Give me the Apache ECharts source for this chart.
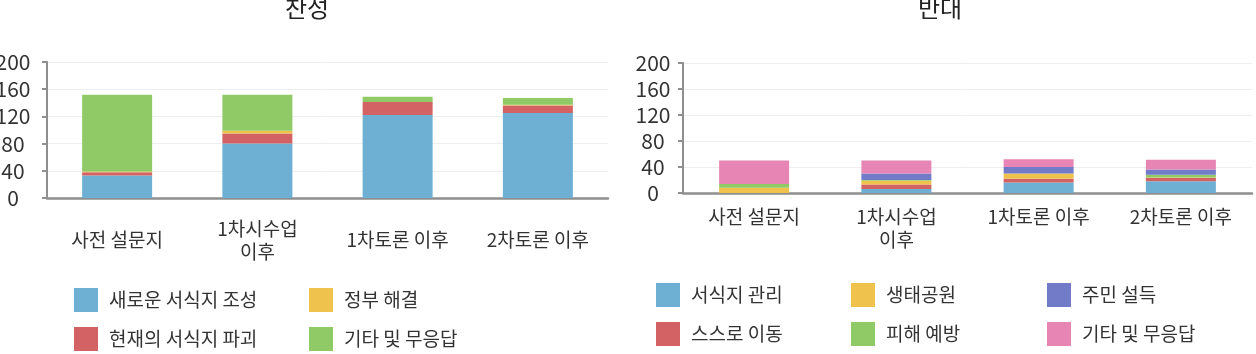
<!DOCTYPE html>
<html><head><meta charset="utf-8">
<script src="https://cdn.jsdelivr.net/npm/echarts@6/dist/echarts.min.js"></script>
<style>html,body{margin:0;padding:0;background:#fff}#c{width:1256px;height:354px}</style>
</head><body><div id="c"></div>
<script>
const categories = ['사전 설문지', '1차시수업\n이후', '1차토론 이후', '2차토론 이후'];
const yTicks = [0, 40, 80, 120, 160, 200];
const leftTitle = '찬성';
const rightTitle = '반대';

const leftNames = ['새로운 서식지 조성', '현재의 서식지 파괴', '정부 해결', '기타 및 무응답'];
const leftNew = [33, 80, 122, 125];
const leftDestroy = [5, 15, 19, 11];
const leftGov = [1, 4, 0, 1];
const leftEtc = [113, 53, 8, 10];

const rightNames = ['서식지 관리', '스스로 이동', '생태공원', '피해 예방', '주민 설득', '기타 및 무응답'];
const rightManage = [0, 6, 16, 18];
const rightMove = [0, 7, 6, 5];
const rightPark = [8, 6, 8, 1];
const rightPrevent = [6, 1, 0, 4];
const rightPersuade = [0, 10, 10, 8];
const rightEtc = [36, 20, 12, 15];

const C = {blue:'#6EB0D4', red:'#D26264', yellow:'#EEC24C', green:'#90CA67', purple:'#717BC8', pink:'#E785B4'};
const leftColors = [C.blue, C.red, C.yellow, C.green];
const rightColors = [C.blue, C.red, C.yellow, C.green, C.purple, C.pink];
const FONT = 'Noto Sans CJK KR';

const leftData = [leftNew, leftDestroy, leftGov, leftEtc];
const rightData = [rightManage, rightMove, rightPark, rightPrevent, rightPersuade, rightEtc];

function yAxis(gi, margin) {
  return {
    type: 'value', gridIndex: gi, min: yTicks[0], max: yTicks[yTicks.length-1], interval: 40,
    axisLine: {show: true, lineStyle: {color: '#8f8f8f', width: 2}},
    axisTick: {show: true, length: 5, lineStyle: {color: '#8f8f8f', width: 2}},
    splitLine: {lineStyle: {color: '#eeeeee', width: 1}},
    axisLabel: {color: '#333', fontSize: 21, fontFamily: FONT, align: 'center', margin: margin}
  };
}
function xAxis(gi, opts) {
  return {
    type: 'category', gridIndex: gi, data: categories,
    axisLine: {show: true, lineStyle: {color: '#8f8f8f', width: 2.5}},
    axisTick: {show: false},
    axisLabel: Object.assign({interval: 0, color: '#333', fontSize: 19, fontFamily: FONT, lineHeight: 23}, opts)
  };
}

const series = [];
leftNames.forEach((n, i) => series.push({
  name: n, type: 'bar', stack: 'L', xAxisIndex: 0, yAxisIndex: 0, barWidth: 70,
  itemStyle: {color: leftColors[i]}, data: leftData[i]
}));
rightNames.forEach((n, i) => series.push({
  name: n, type: 'bar', stack: 'R', xAxisIndex: 1, yAxisIndex: 1, barWidth: 70,
  itemStyle: {color: rightColors[i]}, data: rightData[i]
}));

function legendItem(name, color, left, top) {
  return {
    left: left, top: top, itemWidth: 24, itemHeight: 24, padding: 0,
    icon: 'rect', selectedMode: false,
    textStyle: {color: '#333', fontSize: 19, fontFamily: FONT, padding: [0, 0, 0, 6]},
    data: [{name: name, itemStyle: {color: color}}]
  };
}
const legends = [];
const lCols = [74, 309], lRows = [288, 327];
leftNames.forEach((n, i) => legends.push(legendItem(n, leftColors[i], lCols[Math.floor(i/2)], lRows[i%2])));
const rCols = [656, 851, 1047], rRows = [283, 322];
rightNames.forEach((n, i) => legends.push(legendItem(n, rightColors[i], rCols[Math.floor(i/2)], rRows[i%2])));

const option = {
  animation: false,
  title: [
    {text: leftTitle, left: 280, top: -9, textStyle: {fontSize: 24, fontWeight: 'normal', color: '#222', fontFamily: FONT}},
    {text: rightTitle, left: 913, top: -9, textStyle: {fontSize: 24, fontWeight: 'normal', color: '#222', fontFamily: FONT}}
  ],
  grid: [
    {left: 47, right: 648, top: 62, bottom: 156, outerBoundsMode: 'none', containLabel: false},
    {left: 683, right: 4, top: 63, bottom: 161, outerBoundsMode: 'none', containLabel: false}
  ],
  xAxis: [
    xAxis(0, {verticalAlign: 'middle', margin: 42}),
    xAxis(1, {margin: 12})
  ],
  yAxis: [yAxis(0, 34), yAxis(1, 30)],
  legend: legends,
  series: series
};
const chart = echarts.init(document.getElementById('c'), null, {renderer: 'canvas'});
chart.setOption(option);
</script></body></html>
